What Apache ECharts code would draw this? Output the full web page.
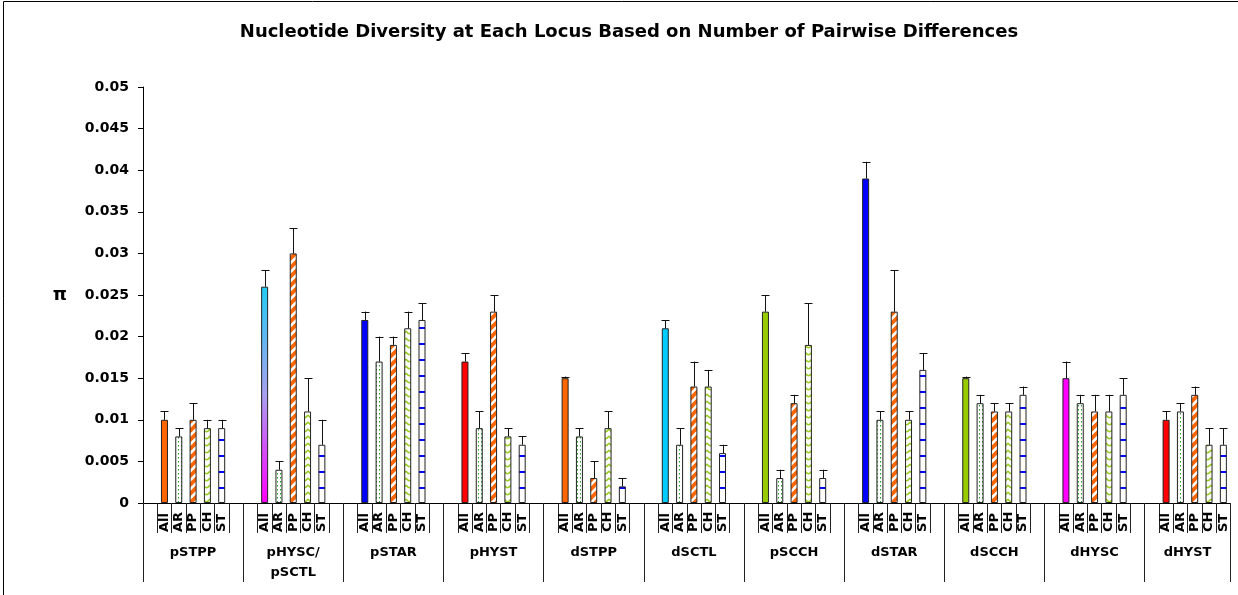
<!DOCTYPE html>
<html>
<head>
<meta charset="utf-8">
<script src="https://cdn.jsdelivr.net/npm/echarts@6/dist/echarts.min.js"></script>
<style>
  html, body { margin: 0; padding: 0; background: #fff; overflow: hidden; }
  #chart { width: 1238px; height: 595px; }
</style>
</head>
<body>
<div id="chart"></div>
<script>
// Loci (outer category level) and populations (inner level)
const groups = ['pSTPP', 'pHYSC/\npSCTL', 'pSTAR', 'pHYST', 'dSTPP', 'dSCTL', 'pSCCH', 'dSTAR', 'dSCCH', 'dHYSC', 'dHYST'];
const subLabels = ['All', 'AR', 'PP', 'CH', 'ST'];

// Nucleotide diversity (pi) per locus and the top of each error bar
const allVals = [0.010, 0.026, 0.022, 0.017, 0.015, 0.021, 0.023, 0.039, 0.015, 0.015, 0.010];
const allTop  = [0.011, 0.028, 0.023, 0.018, 0.0152, 0.022, 0.025, 0.041, 0.0152, 0.017, 0.011];
const arVals  = [0.008, 0.004, 0.017, 0.009, 0.008, 0.007, 0.003, 0.010, 0.012, 0.012, 0.011];
const arTop   = [0.009, 0.005, 0.020, 0.011, 0.009, 0.009, 0.004, 0.011, 0.013, 0.013, 0.012];
const ppVals  = [0.010, 0.030, 0.019, 0.023, 0.003, 0.014, 0.012, 0.023, 0.011, 0.011, 0.013];
const ppTop   = [0.012, 0.033, 0.020, 0.025, 0.005, 0.017, 0.013, 0.028, 0.012, 0.013, 0.014];
const chVals  = [0.009, 0.011, 0.021, 0.008, 0.009, 0.014, 0.019, 0.010, 0.011, 0.011, 0.007];
const chTop   = [0.010, 0.015, 0.023, 0.009, 0.011, 0.016, 0.024, 0.011, 0.012, 0.013, 0.009];
const stVals  = [0.009, 0.007, 0.022, 0.007, 0.002, 0.006, 0.003, 0.016, 0.013, 0.013, 0.007];
const stTop   = [0.010, 0.010, 0.024, 0.008, 0.003, 0.007, 0.004, 0.018, 0.014, 0.015, 0.009];

// Y axis ticks
const yMin = 0, yMax = 0.05, yStep = 0.005;

// Fill colours of the "All" bars, one per locus
const allColors = ['#FF6600', 'grad', '#0000FF', '#FF0000', '#FF6600', '#00CCFF', '#99CC00', '#0000FF', '#99CC00', '#FF00FF', '#FF0000'];

// ---- layout of the two-level category axis ----
// each locus: blank, All, AR, PP, CH, ST, blank (the last locus has no trailing blank)
const SLOTS = 7;
const categories = [];
groups.forEach(function (g, gi) {
  categories.push('');
  subLabels.forEach(function (s) { categories.push(s); });
  if (gi < groups.length - 1) categories.push('');
});
const nCat = categories.length;
function slotIndex(gi, si) { return gi * SLOTS + 1 + si; }

const groupTicks = groups.map(function (g, gi) { return gi * SLOTS; }).concat([nCat]);
const groupCenters = groups.map(function (g, gi) {
  const start = gi * SLOTS;
  const end = gi < groups.length - 1 ? start + SLOTS : nCat;
  return (start + end) / 2;
});

// ---- fill patterns ----
function makePattern(w, h, draw) {
  const c = document.createElement('canvas');
  c.width = w; c.height = h;
  const ctx = c.getContext('2d');
  ctx.fillStyle = '#ffffff';
  ctx.fillRect(0, 0, w, h);
  draw(ctx, w, h);
  return { image: c, repeat: 'repeat' };
}
const dotPattern = makePattern(3, 4, function (ctx) {
  ctx.fillStyle = '#22A022';
  ctx.fillRect(1, 1, 1, 1.5);
});
const stripePattern = makePattern(9, 9, function (ctx, w) {
  ctx.strokeStyle = '#FF6600';
  ctx.lineWidth = 3.8;
  [-w, 0, w].forEach(function (x0) {
    ctx.beginPath();
    ctx.moveTo(x0 - 1, w + 1);
    ctx.lineTo(x0 + w + 1, -1);
    ctx.stroke();
  });
});
const wavePattern = makePattern(7, 7, function (ctx) {
  ctx.strokeStyle = '#99CC22';
  ctx.lineWidth = 1.4;
  ctx.beginPath();
  ctx.moveTo(0, 2);
  ctx.quadraticCurveTo(3.5, 7.5, 7, 2);
  ctx.stroke();
});
const dashPattern = makePattern(4, 16, function (ctx) {
  ctx.fillStyle = '#0000FF';
  ctx.fillRect(0, 7, 4, 2);
});

const gradientFill = new echarts.graphic.LinearGradient(0, 0, 0, 1, [
  { offset: 0, color: '#22CCF5' },
  { offset: 0.5, color: '#A8A0F0' },
  { offset: 1, color: '#FF00FF' }
]);

const barBorder = { borderColor: '#222', borderWidth: 1 };

function fullSeries(vals, si, styleFn) {
  const arr = new Array(nCat).fill('-');
  vals.forEach(function (v, gi) {
    const item = { value: v };
    if (styleFn) item.itemStyle = Object.assign({ color: styleFn(gi) }, barBorder);
    arr[slotIndex(gi, si)] = item;
  });
  return arr;
}

const seriesDefs = [
  { name: 'All', vals: allVals, tops: allTop, fill: null },
  { name: 'AR', vals: arVals, tops: arTop, fill: dotPattern },
  { name: 'PP', vals: ppVals, tops: ppTop, fill: stripePattern },
  { name: 'CH', vals: chVals, tops: chTop, fill: wavePattern },
  { name: 'ST', vals: stVals, tops: stTop, fill: dashPattern }
];

const barSeries = seriesDefs.map(function (d, si) {
  return {
    name: d.name,
    type: 'bar',
    xAxisIndex: 0,
    yAxisIndex: 0,
    barWidth: 7,
    barGap: '-100%',
    itemStyle: Object.assign({ color: d.fill || '#888' }, barBorder),
    data: si === 0
      ? fullSeries(d.vals, si, function (gi) { return allColors[gi] === 'grad' ? gradientFill : allColors[gi]; })
      : fullSeries(d.vals, si, null),
    z: 2
  };
});

const errData = [];
seriesDefs.forEach(function (d, si) {
  d.vals.forEach(function (v, gi) {
    errData.push([slotIndex(gi, si), v, d.tops[gi]]);
  });
});

const errorSeries = {
  type: 'custom',
  xAxisIndex: 0,
  yAxisIndex: 0,
  encode: { x: 0, y: [1, 2] },
  data: errData,
  z: 3,
  renderItem: function (params, api) {
    const x = api.value(0);
    const p0 = api.coord([x, api.value(1)]);
    const p1 = api.coord([x, api.value(2)]);
    const cx = Math.round(p0[0]) + 0.5;
    const half = 4;
    const st = { stroke: '#111', lineWidth: 1 };
    return {
      type: 'group',
      children: [
        { type: 'line', shape: { x1: cx, y1: p0[1], x2: cx, y2: p1[1] }, style: st },
        { type: 'line', shape: { x1: cx - half, y1: Math.round(p1[1]) + 0.5, x2: cx + half, y2: Math.round(p1[1]) + 0.5 }, style: st }
      ]
    };
  }
};

const FONT = 'DejaVu Sans';
const chart = echarts.init(document.getElementById('chart'), null, { renderer: 'canvas' });

chart.setOption({
  animation: false,
  backgroundColor: '#ffffff',
  title: {
    text: 'Nucleotide Diversity at Each Locus Based on Number of Pairwise Differences',
    left: 624,
    top: 18,
    textAlign: 'center',
    textStyle: { fontFamily: FONT, fontWeight: 'bold', fontSize: 18, color: '#000' }
  },
  graphic: [{
    type: 'rect',
    silent: true,
    z: -10,
    shape: { x: 3.5, y: 1.5, width: 1400, height: 800 },
    style: { fill: 'none', stroke: '#000', lineWidth: 1 }
  }],
  grid: {
    left: 143, right: 7.5, top: 87, bottom: 92,
    containLabel: false,
    outerBoundsMode: 'none'
  },
  xAxis: [
    {
      type: 'category',
      data: categories,
      boundaryGap: true,
      position: 'bottom',
      axisLine: { show: true, lineStyle: { color: '#000', width: 1 } },
      axisTick: { show: true, interval: 0, length: 30, lineStyle: { color: '#222', width: 1 } },
      axisLabel: {
        show: true,
        interval: 0,
        rotate: 90,
        align: 'left',
        verticalAlign: 'middle',
        margin: 29,
        fontFamily: FONT,
        fontWeight: 'bold',
        fontSize: 13,
        color: '#000'
      },
      splitLine: { show: false }
    },
    {
      type: 'value',
      min: 0,
      max: nCat,
      position: 'bottom',
      axisLine: { show: false },
      axisTick: { show: true, customValues: groupTicks, length: 79, lineStyle: { color: '#222', width: 1 } },
      axisLabel: {
        show: true,
        customValues: groupCenters,
        formatter: function (value) {
          const i = groupCenters.indexOf(value);
          return i >= 0 ? groups[i] : '';
        },
        margin: 40,
        verticalAlign: 'top',
        lineHeight: 20,
        fontFamily: FONT,
        fontWeight: 'bold',
        fontSize: 13,
        color: '#000'
      },
      splitLine: { show: false }
    }
  ],
  yAxis: {
    type: 'value',
    min: yMin,
    max: yMax,
    interval: yStep,
    name: 'π',
    nameLocation: 'middle',
    nameRotate: 0,
    nameGap: 76,
    nameTextStyle: { fontFamily: FONT, fontWeight: 'bold', fontSize: 18, color: '#000' },
    axisLine: { show: true, lineStyle: { color: '#000', width: 1 } },
    axisTick: { show: true, length: 5, lineStyle: { color: '#000' } },
    axisLabel: {
      margin: 14,
      fontFamily: FONT,
      fontWeight: 'bold',
      fontSize: 14,
      color: '#000',
      formatter: function (v) { return String(parseFloat(v.toFixed(3))); }
    },
    splitLine: { show: false }
  },
  series: barSeries.concat([errorSeries])
});
</script>
</body>
</html>
